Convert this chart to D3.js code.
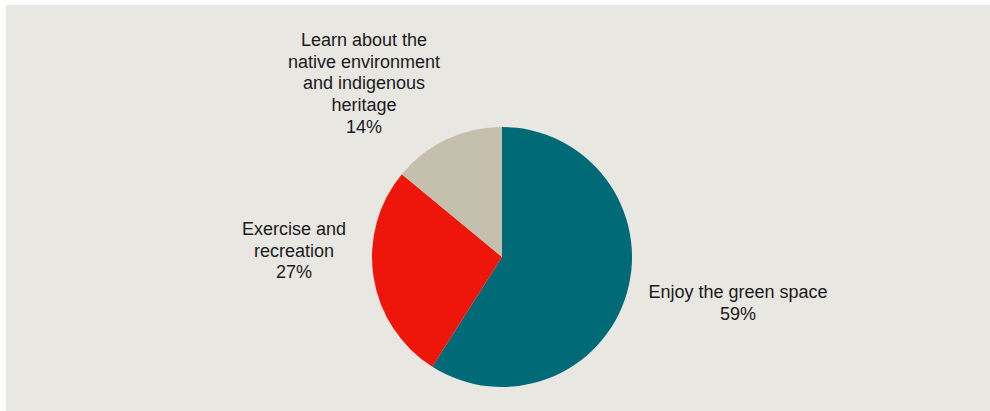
<!DOCTYPE html>
<html>
<head>
<meta charset="utf-8">
<script src="https://cdn.jsdelivr.net/npm/d3@7"></script>
<style>
  html, body { margin: 0; padding: 0; background: #ffffff; }
  svg { display: block; }
  text { font-family: "Liberation Sans", Arial, sans-serif; font-size: 18px; fill: #1a1a1a; }
</style>
</head>
<body>
<svg id="chart" width="990" height="411"></svg>
<script>
// Data
const categories = ["Enjoy the green space", "Exercise and recreation", "Learn about the native environment and indigenous heritage"];
const values = [59, 27, 14];
const labelLines = [
  ["Enjoy the green space", "59%"],
  ["Exercise and", "recreation", "27%"],
  ["Learn about the", "native environment", "and indigenous", "heritage", "14%"]
];
const colors = ["#006b77", "#ee150b", "#c5bfad"];

// Layout
const W = 990, H = 411;
const cx = 502, cy = 257, R = 130;
const lineH = 21.7;
// label anchor: center x, first baseline y
const labelAnchors = [[738, 298], [294, 235], [364, 46]];

const svg = d3.select("#chart");
svg.append("rect").attr("x", 6).attr("y", 5).attr("width", W - 6).attr("height", H - 5).attr("fill", "#e8e7e2");

const pie = d3.pie().value(d => d).sort(null);
const arc = d3.arc().innerRadius(0).outerRadius(R);
const g = svg.append("g").attr("transform", `translate(${cx},${cy})`);
g.selectAll("path").data(pie(values)).enter().append("path")
  .attr("d", arc)
  .attr("fill", (d, i) => colors[i]);

labelLines.forEach((lines, i) => {
  const t = svg.append("text").attr("text-anchor", "middle")
    .attr("x", labelAnchors[i][0]).attr("y", labelAnchors[i][1]);
  lines.forEach((ln, j) => {
    t.append("tspan").attr("x", labelAnchors[i][0]).attr("dy", j === 0 ? 0 : lineH).text(ln);
  });
});
</script>
</body>
</html>
